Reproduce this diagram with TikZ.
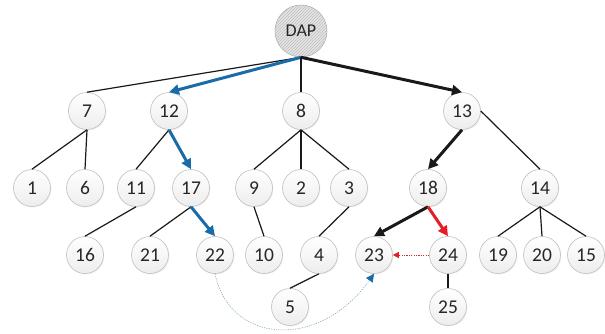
\documentclass[tikz,border=0pt]{standalone}
\usepackage{fontspec}
\setmainfont{Carlito}
\usetikzlibrary{arrows.meta,patterns,shadows}
\definecolor{pathblue}{RGB}{24,108,168}
\definecolor{pathred}{RGB}{228,30,38}
\definecolor{dotblue}{RGB}{130,170,195}
\begin{document}
\begin{tikzpicture}[x=1pt,y=-1pt,
  nd/.style={circle,minimum size=37pt,inner sep=0pt,draw=gray!50,line width=0.6pt,
    top color=white,bottom color=gray!14,
    drop shadow={opacity=0.10,shadow xshift=1pt,shadow yshift=-1pt},
    font=\fontsize{19.5}{21}\selectfont,text=black!85},
  dapnode/.style={circle,minimum size=52pt,inner sep=0pt,draw=gray!60,line width=0.6pt,
    preaction={fill=gray!20},pattern=north east lines,pattern color=gray!50,
    font=\fontsize{18}{20}\selectfont,text=black!85},
  plainedge/.style={line width=1.2pt,black!90},
  boldarrow/.style={line width=3pt,black!90,-{Triangle[length=10pt,width=10pt]}},
  bluearrow/.style={line width=3pt,pathblue,-{Triangle[length=10pt,width=10pt]}},
  redarrow/.style={line width=3pt,pathred,-{Triangle[length=10pt,width=10pt]}},
  reddot/.style={line width=0.6pt,pathred,dash pattern=on 1.2pt off 1.2pt,-{Triangle[length=6pt,width=6pt]}},
  bluedot/.style={line width=0.6pt,dotblue,dash pattern=on 1.2pt off 1.2pt,-{Triangle[length=8pt,width=8pt,color=pathblue,fill=pathblue]}}
]
\useasboundingbox (0,0) rectangle (605,333);
\node[dapnode] (dap) at (301,31) {DAP};
% row 1
\node[nd] (n7)  at (87,111) {7};
\node[nd] (n12) at (169,111) {12};
\node[nd] (n8)  at (301,111) {8};
\node[nd] (n13) at (462,111) {13};
% row 2
\node[nd] (n1)  at (32,188) {1};
\node[nd] (n6)  at (85,188) {6};
\node[nd] (n11) at (136,188) {11};
\node[nd] (n17) at (191,188) {17};
\node[nd] (n9)  at (254,188) {9};
\node[nd] (n2)  at (301,188) {2};
\node[nd] (n3)  at (349,188) {3};
\node[nd] (n18) at (428,188) {18};
\node[nd] (n14) at (540,188) {14};
% row 3
\node[nd] (n16) at (85,255) {16};
\node[nd] (n21) at (150,255) {21};
\node[nd] (n22) at (215,255) {22};
\node[nd] (n10) at (264,255) {10};
\node[nd] (n4)  at (319,255) {4};
\node[nd] (n23) at (374,255) {23};
\node[nd] (n24) at (448,255) {24};
\node[nd] (n19) at (498,255) {19};
\node[nd] (n20) at (542,255) {20};
\node[nd] (n15) at (586,255) {15};
% row 4
\node[nd] (n5)  at (290,307) {5};
\node[nd] (n25) at (448,307) {25};
% edges
\draw[plainedge] (dap.south) -- (n7.north);
\draw[bluearrow] (dap.south) -- (n12.north);
\draw[plainedge] (dap.south) -- (n8.north);
\draw[boldarrow] (dap.south) -- (n13.north);
\draw[plainedge] (n7.south) -- (n1.north);
\draw[plainedge] (n7.south) -- (n6.north);
\draw[plainedge] (n12.south) -- (n11.north);
\draw[bluearrow] (n12.south) -- (n17.north);
\draw[plainedge] (n8.south) -- (n9.north);
\draw[plainedge] (n8.south) -- (n2.north);
\draw[plainedge] (n8.south) -- (n3.north);
\draw[boldarrow] (n13.south) -- (n18.north);
\draw[plainedge] (n13.east) -- (n14.north);
\draw[plainedge] (n11.south) -- (n16.north);
\draw[plainedge] (n17.south) -- (n21.north);
\draw[bluearrow] (n17.south) -- (n22.north);
\draw[plainedge] (n9.south) -- (n10.north);
\draw[plainedge] (n3.south) -- (n4.north);
\draw[boldarrow] (n18.south) -- (n23.north);
\draw[redarrow] (n18.south) -- (n24.north);
\draw[plainedge] (n14.south) -- (n19.north);
\draw[plainedge] (n14.south) -- (n20.north);
\draw[plainedge] (n14.south) -- (n15.north);
\draw[plainedge] (n4.south) -- (n5.north);
\draw[plainedge] (n24.south) -- (n25.north);
\draw[reddot] (n24.west) -- (n23.east);
\draw[bluedot] (n22.south) .. controls (230,345) and (320,350) .. (n23.south);
\end{tikzpicture}
\end{document}
